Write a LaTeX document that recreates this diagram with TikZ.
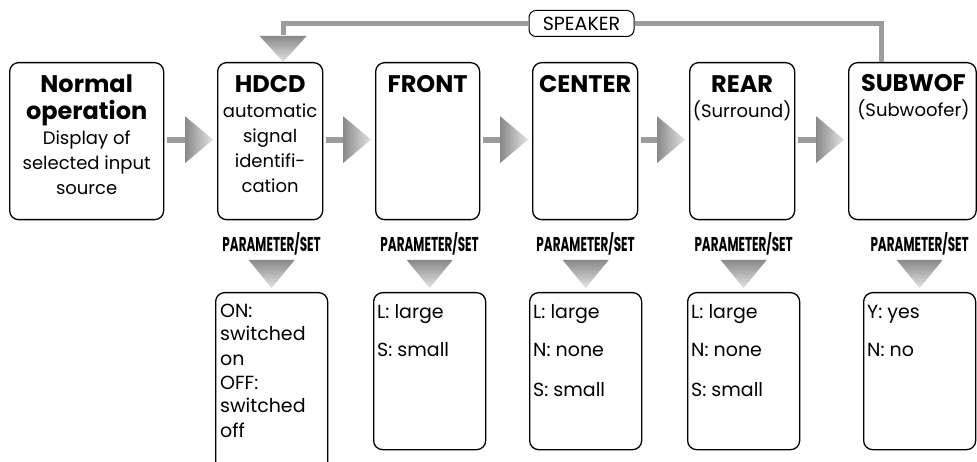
\documentclass[tikz,border=0pt]{standalone}
\usepackage{fontspec}
\usepackage{graphicx}
\setmainfont{Poppins}
\usetikzlibrary{calc}

\definecolor{linegray}{HTML}{9C9C9C}
\definecolor{headdark}{HTML}{898989}
\definecolor{headlight}{HTML}{E4E4E4}

% stacked lines whose baseline is the first line
\newcommand\ctxt[1]{\begin{tabular}[t]{@{}c@{}}#1\end{tabular}}
\newcommand\ltxt[1]{\begin{tabular}[t]{@{}l@{}}#1\end{tabular}}
\newcommand\ttl{\fontsize{24}{25}\selectfont\bfseries}

\tikzset{
  stage/.style={draw=black, line width=1.3pt, rounded corners=9pt, fill=white,
    minimum height=157pt, inner sep=0pt, anchor=north west},
  optbox/.style={draw=black, line width=1.3pt, rounded corners=9pt, fill=white,
    minimum width=112pt, inner sep=0pt, anchor=north west},
  stagetext/.style={font=\fontsize{18}{25}\selectfont, anchor=base, inner sep=0pt},
  opttext/.style={font=\fontsize{19}{39}\selectfont, anchor=base west, inner sep=0pt},
  paramlabel/.style={font=\fontsize{20}{20}\selectfont\bfseries, inner sep=0pt},
  speakerbox/.style={draw=black, line width=1pt, rounded corners=7pt, fill=white,
    minimum width=105pt, minimum height=26pt, inner sep=0pt,
    font=\fontsize{19}{19}\selectfont},
  feed/.style={draw=linegray, line width=5pt},
}

% grey arrow with shaded head, from the right side of #1 to the left side of #2
\newcommand\flow[2]{%
  \path ($(#1.east)+(3,-1.5)$) coordinate (tail) ($(#2.west)+(-4,-1.5)$) coordinate (tip);
  \fill[linegray] ($(tail)+(0,-3)$) rectangle ($(tip)+(-28,3)$);
  \shade[left color=headdark, right color=headlight]
    ($(tip)+(-28,-23.5)$) -- (tip) -- ($(tip)+(-28,23.5)$) -- cycle;
}
% PARAMETER/SET label and shaded down triangle above the option box #2
\newcommand\setdown[2]{%
  \path ($(#2.north)+(0,-4)$) coordinate (tip);
  \node[paramlabel, anchor=base] (lbl-#2) at ($(#2.north)+(0,-40)$) {\scalebox{0.6}[1]{PARAMETER/SET}};
  \shade[top color=headdark, bottom color=headlight]
    ($(tip)+(-23,-28)$) -- (tip) -- ($(tip)+(23,-28)$) -- cycle;
}

\begin{document}
\begin{tikzpicture}[x=1pt, y=-1pt]
\clip (0,0) rectangle (977,462);
\fill[white] (0,0) rectangle (977,462);

% stage boxes
\node[stage, minimum width=154pt] (normal) at (9,62) {};
\node[stage, minimum width=105pt] (hdcd) at (217,62) {};
\node[stage, minimum width=104pt] (front) at (375,62) {};
\node[stage, minimum width=105pt] (center) at (532,62) {};
\node[stage, minimum width=105pt] (rear) at (689,62) {};
\node[stage, minimum width=127.5pt] (subwof) at (848,62) {};

\node[stagetext] (normal-t) at ($(normal.north)+(0,31)$)
  {\ctxt{{\ttl Normal}\\{\ttl operation}\\Display of\\selected input\\source}};
\node[stagetext] (hdcd-t) at ($(hdcd.north)+(0,31)$)
  {\ctxt{{\ttl HDCD}\\automatic\\signal\\identifi-\\cation}};
\node[stagetext] (front-t) at ($(front.north)+(0,31)$) {\ctxt{{\ttl FRONT}}};
\node[stagetext] (center-t) at ($(center.north)+(0,31)$) {\ctxt{{\ttl CENTER}}};
\node[stagetext] (rear-t) at ($(rear.north)+(0,31)$) {\ctxt{{\ttl REAR}\\(Surround)}};
\node[stagetext] (subwof-t) at ($(subwof.north)+(1,30)$) {\ctxt{{\ttl SUBWOF}\\(Subwoofer)}};

% arrows between stages
\flow{normal}{hdcd}
\flow{hdcd}{front}
\flow{front}{center}
\flow{center}{rear}
\flow{rear}{subwof}

% option boxes
\node[optbox, minimum height=190pt] (hdcd-o) at (215,292) {};
\node[optbox, minimum height=157pt] (front-o) at (373,292) {};
\node[optbox, minimum height=157pt] (center-o) at (529,292) {};
\node[optbox, minimum height=157pt] (rear-o) at (687,292) {};
\node[optbox, minimum height=157pt] (subwof-o) at (863,292) {};

\node[opttext, font=\fontsize{19}{24}\selectfont] (hdcd-ot) at ($(hdcd-o.north west)+(5,25)$)
  {\ltxt{ON:\\switched\\on\\OFF:\\switched\\off}};
\node[opttext] (front-ot) at ($(front-o.north west)+(4,26)$) {\ltxt{L: large\\S: small}};
\node[opttext] (center-ot) at ($(center-o.north west)+(4,26)$) {\ltxt{L: large\\N: none\\S: small}};
\node[opttext] (rear-ot) at ($(rear-o.north west)+(4,26)$) {\ltxt{L: large\\N: none\\S: small}};
\node[opttext] (subwof-ot) at ($(subwof-o.north west)+(4,26)$) {\ltxt{Y: yes\\N: no}};

\setdown{hdcd}{hdcd-o}
\setdown{front}{front-o}
\setdown{center}{center-o}
\setdown{rear}{rear-o}
\setdown{subwof}{subwof-o}

% speaker selection loop from the last stage back to HDCD
\node[speakerbox] (speaker) at (581.5,23.5) {SPEAKER};
\coordinate (rise) at ($(subwof.north west)+(33,0)$);
\coordinate (drop) at ($(hdcd.north)+(13,0)$);
\draw[feed] (rise) |- (speaker.east);
\draw[feed] (speaker.west) -| ($(drop)+(0,-27)$);
\shade[top color=headdark, bottom color=headlight]
  ($(drop)+(-23.5,-26)$) -- (drop) -- ($(drop)+(23.5,-26)$) -- cycle;
\end{tikzpicture}
\end{document}
